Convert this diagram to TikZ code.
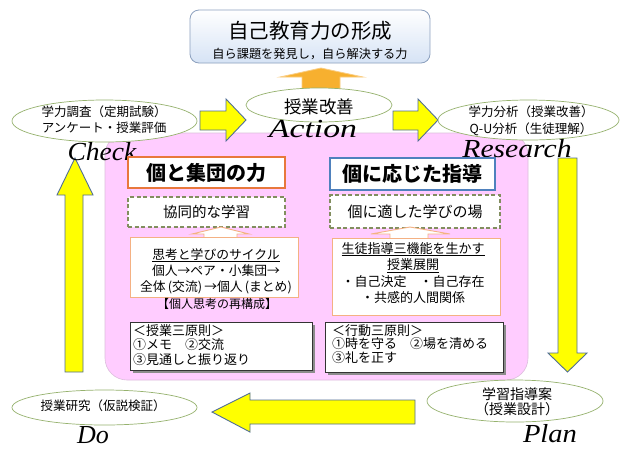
\documentclass[tikz,border=0pt]{standalone}
\usepackage{graphicx}
\usepackage{fontspec}
\setmainfont{Noto Sans CJK JP}
\newfontfamily\latinfont{Liberation Serif}
\usetikzlibrary{shapes.geometric}
\definecolor{pinkbg}{RGB}{255,204,255}
\definecolor{pinkedge}{RGB}{220,190,220}
\definecolor{ellc}{RGB}{150,178,110}
\definecolor{yelfill}{RGB}{255,255,0}
\definecolor{yeledge}{RGB}{80,110,150}
\definecolor{orfill}{RGB}{247,176,47}
\definecolor{oredge}{RGB}{250,205,130}
\definecolor{hdrorange}{RGB}{232,120,60}
\definecolor{hdrblue}{RGB}{79,129,189}
\definecolor{dashc}{RGB}{130,142,95}
\definecolor{lightor}{RGB}{244,177,131}
\definecolor{topedge}{RGB}{140,160,190}
\definecolor{topfill}{RGB}{214,227,245}
\begin{document}
\begin{tikzpicture}[x=1pt,y=-1pt,
  ell/.style={ellipse,draw=ellc,line width=0.7pt,fill=white,inner sep=0pt},
  yarrow/.style={fill=yelfill,draw=yeledge,line width=0.9pt,line join=miter},
  hdr/.style={draw,fill=white,line width=1.4pt,inner sep=0pt,font=\bfseries\fontsize{20}{22}\selectfont},
  dbox/.style={draw=dashc,dashed,dash pattern=on 4pt off 2.5pt,line width=1.1pt,fill=white,inner sep=0pt},
  obox/.style={draw=lightor,line width=0.9pt,fill=white,inner sep=0pt},
  shbox/.style={draw=black!80,line width=0.9pt,fill=white,inner sep=0pt},
  latinword/.style={font=\latinfont\itshape\fontsize{26}{28}\selectfont,anchor=base,inner sep=0pt},
  txt/.style={inner sep=0pt,align=center}
]
\useasboundingbox (0,0) rectangle (620,448);
\fill[white] (0,0) rectangle (620,448);

% top box
\node[draw=topedge,line width=0.8pt,rounded corners=9pt,top color=white,bottom color=topfill,minimum width=240pt,minimum height=53pt] (topbox) at (310,36.5) {};
\node[txt,font=\fontsize{20.5}{22}\selectfont] (title) at (310,31) {自己教育力の形成};
\node[txt,font=\fontsize{12.2}{14}\selectfont] (subtitle) at (310,54) {自ら課題を発見し，自ら解決する力};

% orange up arrow
\path[fill=orfill,draw=oredge,line width=0.8pt] (302,92) -- (302,77) -- (280,77) -- (321,68) -- (363,77) -- (340,77) -- (340,92) -- cycle;

% pink area
\node[fill=pinkbg,draw=pinkedge,line width=0.6pt,rounded corners=22pt,minimum width=423pt,minimum height=247pt] (pink) at (316.5,256.5) {};

% yellow arrows
\path[yarrow] (200,111) -- (226,111) -- (226,99) -- (246,120) -- (226,141) -- (226,130) -- (200,130) -- cycle;
\path[yarrow] (393,111) -- (418,111) -- (418,99) -- (438,120) -- (418,141) -- (418,130) -- (393,130) -- cycle;
\path[yarrow] (558,158) -- (577,158) -- (577,353) -- (587,353) -- (567.5,372) -- (548,353) -- (558,353) -- cycle;
\path[yarrow] (415,400) -- (415,424) -- (250,424) -- (250,432) -- (212,412) -- (250,393) -- (250,400) -- cycle;
\path[yarrow] (65,372) -- (65,195) -- (57,195) -- (75,158) -- (93,195) -- (83,195) -- (83,372) -- cycle;

% ellipses
\node[ell,minimum width=146pt,minimum height=34pt] (action) at (319,105) {};
\node[txt,font=\fontsize{17.5}{19}\selectfont] (actiontxt) at (319,107) {授業改善};
\node[ell,minimum width=185pt,minimum height=42pt] (check) at (104.5,121) {};
\node[txt,font=\fontsize{12.5}{16}\selectfont] (checktxt) at (104,120) {学力調査（定期試験）\\アンケート・授業評価};
\node[ell,minimum width=181pt,minimum height=40pt] (research) at (528.5,120) {};
\node[txt,font=\fontsize{12.5}{17}\selectfont] (researchtxt) at (531,121) {学力分析（授業改善）\\Q-U分析（生徒理解）};
\node[ell,minimum width=185pt,minimum height=35pt] (do) at (104.5,407.5) {};
\node[txt,font=\fontsize{12.5}{15}\selectfont] (dotxt) at (103,406) {授業研究（仮説検証）};
\node[ell,minimum width=176pt,minimum height=42pt] (plan) at (515,401) {};
\node[txt,font=\fontsize{14}{15}\selectfont] (plantxt) at (517,402) {学習指導案\\（授業設計）};

% latin words
\node[latinword] (wcheck) at (102,160) {\scalebox{1.06}[1]{Check}};
\node[latinword] (wresearch) at (517,157) {\scalebox{1.14}[1]{Research}};
\node[latinword] (waction) at (313,137) {\scalebox{1.3}[1]{Action}};
\node[latinword] (wdo) at (93,443) {Do};
\node[latinword] (wplan) at (550,442) {\scalebox{1.1}[1]{Plan}};

% headers
\node[hdr,draw=hdrorange,minimum width=157pt,minimum height=31pt] (hleft) at (206.5,172.5) {個と集団の力};
\node[hdr,draw=hdrblue,minimum width=165pt,minimum height=32pt] (hright) at (412.5,174) {個に応じた指導};

% dashed boxes
\node[dbox,minimum width=157pt,minimum height=30pt,font=\fontsize{14.5}{16}\selectfont] (dleft) at (206.5,212) {協同的な学習};
\node[dbox,minimum width=170pt,minimum height=33pt,font=\fontsize{15}{16}\selectfont] (dright) at (415,211.5) {個に適した学びの場};

% small up arrows
\path[fill=white,draw=lightor,line width=0.9pt] (204,238) -- (204,234) -- (192,234) -- (221,227) -- (249,234) -- (237,234) -- (237,238);
\path[fill=white,draw=lightor,line width=0.9pt] (390,238) -- (390,234) -- (371,234) -- (410,227) -- (450,234) -- (428,234) -- (428,238);

% cycle boxes
\node[obox,minimum width=168pt,minimum height=60pt] (cleft) at (214,267) {};
\node[txt,font=\fontsize{12.8}{16}\selectfont] (clefttxt) at (216,271) {\underline{思考と学びのサイクル}\\個人→ペア・小集団→\\全体\,(交流)\,→個人\,(まとめ)};
\node[txt,font=\fontsize{12}{14}\selectfont] (recon) at (217,304) {【個人思考の再構成】};
\node[obox,minimum width=168pt,minimum height=77pt] (cright) at (416,276.5) {};
\node[txt,font=\fontsize{13}{16.5}\selectfont] (crighttxt) at (413,273) {\underline{生徒指導三機能を生かす}\\\underline{授業展開}\\・自己決定　・自己存在\\・共感的人間関係};

% bottom boxes with shadow
\fill[black!45] (133,325) rectangle (315,373);
\node[shbox,minimum width=182pt,minimum height=48pt] (bleft) at (221,346) {};
\node[anchor=north west,inner sep=0pt,align=left,font=\fontsize{13}{14.5}\selectfont] (blefttxt) at (133,324) {＜授業三原則＞\\①メモ　②交流\\③見通しと振り返り};
\fill[black!45] (328,325) rectangle (506,375);
\node[shbox,minimum width=178pt,minimum height=50pt] (bright) at (414,347) {};
\node[anchor=north west,inner sep=0pt,align=left,font=\fontsize{13}{13.5}\selectfont] (brighttxt) at (332,324) {＜行動三原則＞\\①時を守る　②場を清める\\③礼を正す};
\end{tikzpicture}
\end{document}
